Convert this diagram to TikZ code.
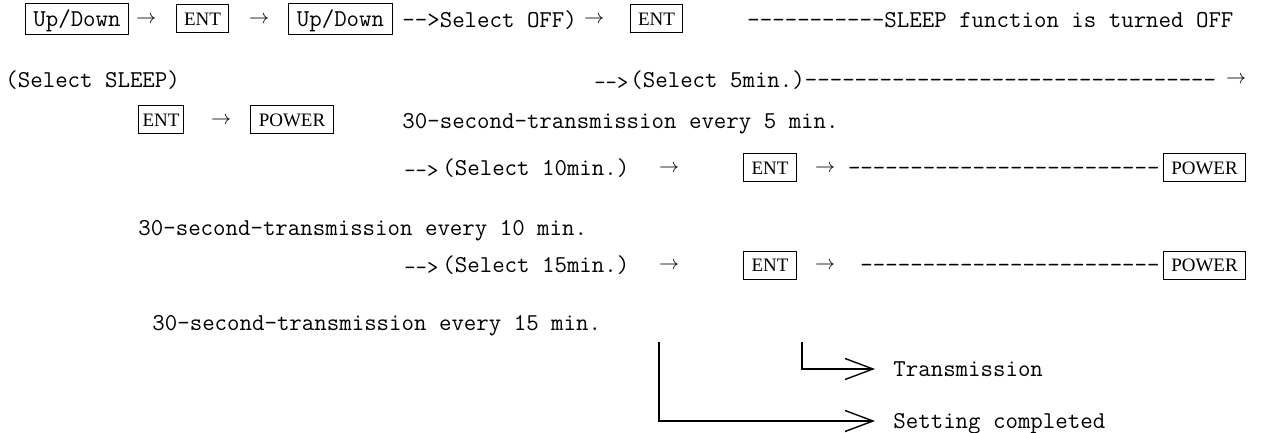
\documentclass[tikz,border=0pt]{standalone}
\usepackage{fontspec}
\newfontfamily\keyfont{Liberation Serif}
\usepackage{tikz}
\usetikzlibrary{arrows.meta}

% a run of typewriter dashes
\newcommand\dashrun[1]{\foreach \i in {1,...,#1}{-}}

\begin{document}
\begin{tikzpicture}[x=0.5pt,y=-0.5pt,
        key/.style={draw, line width=0.5pt, font=\keyfont\fontsize{9.5}{11}\selectfont,
            inner xsep=4pt, minimum height=14pt, text height=6.3pt, text depth=0pt},
        udkey/.style={key, font=\ttfamily\fontsize{12.1}{14}\selectfont, text height=8pt, text depth=0.6pt},
        tt/.style={font=\ttfamily\fontsize{12.1}{14}\selectfont, inner sep=0pt, anchor=west,
            text height=8pt, text depth=0.6pt},
        small/.style={tt, font=\ttfamily\fontsize{10.8}{12}\selectfont},
        arr/.style={inner sep=0pt},
        conn/.style={line width=0.7pt, -{Straight Barb[length=14pt,width=10.5pt]}, shorten >=9pt}]
        \useasboundingbox (0,0) rectangle (1265,433);

        % first line
        \node[udkey] (ud1) at (77,19) {Up/Down};
        \node[arr] (a1) at (146,20) {$\rightarrow$};
        \node[key] (ent1) at (202.5,19) {ENT};
        \node[arr] (a2) at (259,20) {$\rightarrow$};
        \node[udkey] (ud2) at (340.5,19) {Up/Down};
        \node[tt] (off) at (402,20) {\dashrun{2}>Select OFF)};
        \node[arr] (a3) at (594,20) {$\rightarrow$};
        \node[key] (ent2) at (656.5,19) {ENT};
        \node[tt] (sleepoff) at (747,20) {\dashrun{11}SLEEP function is turned OFF};

        \node[tt] (selsleep) at (5,80) {(Select SLEEP)};
        \node[small] (d5) at (594,82) {\dashrun{2}>};
        \node[tt] (sel5) at (630,80) {(Select 5min.)\dashrun{33}};
        \node[arr] (a5) at (1236,80) {$\rightarrow$};

        \node[key, inner xsep=2pt] (ent3) at (161,120) {ENT};
        \node[arr] (a6) at (221,121) {$\rightarrow$};
        \node[key] (pow3) at (292,120) {POWER};

        % 10 and 15 min. lines
        \foreach \m/\y/\n in {10/168/25, 15/265/24} {
            \node[small] (d\m) at (404,\y+2) {\dashrun{2}>};
            \node[tt] (sel\m) at (442,\y) {(Select \m{}min.)};
            \node[arr] (to\m) at (669,\y+1) {$\rightarrow$};
            \node[key] (ent\m) at (770,\y) {ENT};
            \node[arr] (go\m) at (825,\y+1) {$\rightarrow$};
            \node[tt, anchor=east] (line\m) at (1160,\y) {\dashrun{\n}};
            \node[key] (pow\m) at (1204.5,\y) {POWER};
        }

        \foreach \m/\x/\y in {5/402/121, 10/138/228, 15/152/323}
        \node[tt] (every\m) at (\x,\y) {30-second-transmission every \m{} min.};

        \coordinate (setop) at (659,342);
        \coordinate (trtop) at (802,342);
        \node[tt] (trans) at (893,369) {Transmission};
        \node[tt] (done) at (893,421) {Setting completed};
        \draw[conn] (trtop) |- (trans.west);
        \draw[conn] (setop) |- (done.west);
    \end{tikzpicture}
\end{document}
